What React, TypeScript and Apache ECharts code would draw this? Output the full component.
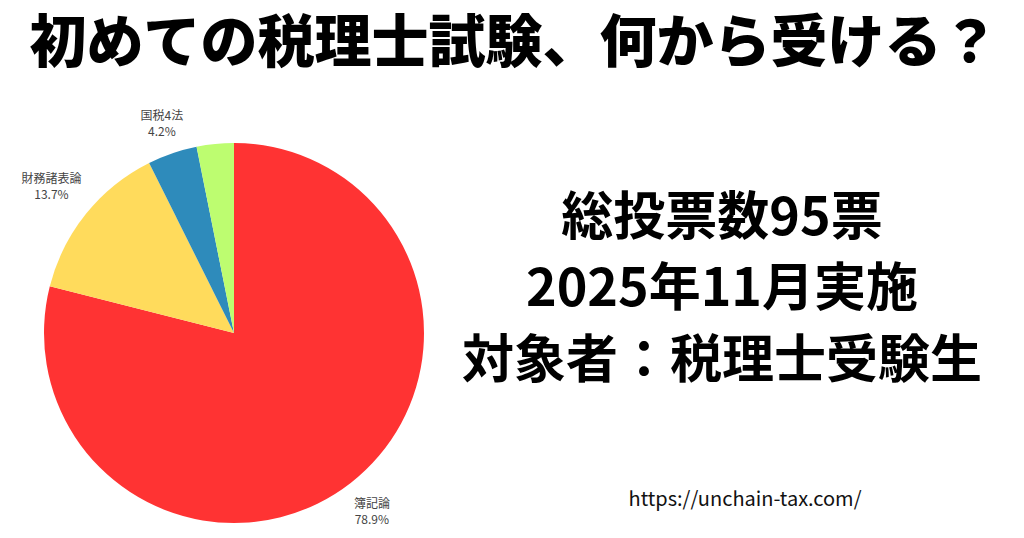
import React, { useEffect, useRef } from 'react';
import * as echarts from 'echarts';

// 投票データ
const subjects = ['簿記論', '財務諸表論', '国税4法', 'その他'];
const votes = [75, 13, 4, 3];
const sliceColors = ['#ff3333', '#ffdb5c', '#2e8bbb', '#bdfd70'];
const showLabel = [true, true, true, false];

const titleText = '初めての税理士試験、何から受ける？';
const infoLines = ['総投票数95票', '2025年11月実施', '対象者：税理士受験生'];
const siteUrl = 'https://unchain-tax.com/';

const PIE_CX = 234;
const PIE_CY = 333;
const PIE_R = 190;
const FONT = '"Noto Sans CJK JP", "Noto Sans", sans-serif';

const App: React.FC = () => {
  const chartRef = useRef<HTMLDivElement>(null);

  useEffect(() => {
    if (!chartRef.current) return;
    const chart = echarts.init(chartRef.current, undefined, { renderer: 'svg' });
    const total = votes.reduce((a, b) => a + b, 0);

    // ラベルを扇形の中心角方向、円の外側に置く
    const labelLayout = (params: any) => {
      const i = params.dataIndex;
      if (!showLabel[i]) return {};
      const before = votes.slice(0, i).reduce((a, b) => a + b, 0);
      const mid = ((before + votes[i] / 2) / total) * Math.PI * 2;
      const dx = Math.sin(mid);
      const dy = -Math.cos(mid);
      const hw = params.labelRect.width / 2;
      const hh = params.labelRect.height / 2;
      const t = PIE_R + 6 + hw * Math.abs(dx) + hh * Math.abs(dy);
      return {
        x: PIE_CX + dx * t,
        y: PIE_CY + dy * t,
        align: 'center',
        verticalAlign: 'middle'
      };
    };

    const option = {
      animation: false,
      backgroundColor: '#ffffff',
      graphic: [
        {
          type: 'text',
          x: 514,
          y: 37,
          style: {
            text: titleText,
            fill: '#000',
            font: `900 57px ${FONT}`,
            textAlign: 'center',
            textVerticalAlign: 'middle'
          }
        },
        ...infoLines.map((line, k) => ({
          type: 'text',
          x: 722,
          y: 212 + k * 71.5,
          style: {
            text: line,
            fill: '#000',
            font: `bold 52px ${FONT}`,
            textAlign: 'center',
            textVerticalAlign: 'middle'
          }
        })),
        {
          type: 'text',
          x: 745,
          y: 497,
          style: {
            text: siteUrl,
            fill: '#111',
            font: `20px ${FONT}`,
            textAlign: 'center',
            textVerticalAlign: 'middle'
          }
        }
      ],
      series: [
        {
          type: 'pie',
          center: [PIE_CX, PIE_CY],
          radius: PIE_R,
          startAngle: 90,
          clockwise: true,
          percentPrecision: 1,
          avoidLabelOverlap: false,
          label: {
            position: 'outside',
            formatter: '{b}\n{d}%',
            color: '#444',
            fontSize: 12,
            lineHeight: 16,
            padding: [3, 4],
            fontFamily: FONT
          },
          labelLine: { show: false },
          labelLayout,
          emphasis: { disabled: true },
          data: subjects.map((name, i) => ({
            name,
            value: votes[i],
            itemStyle: { color: sliceColors[i] },
            label: { show: showLabel[i] }
          }))
        }
      ]
    };

    chart.setOption(option);

    return () => {
      chart.dispose();
    };
  }, []);

  return (
    <div
      ref={chartRef}
      style={{ position: 'fixed', left: 0, top: 0, width: '1024px', height: '538px' }}
    ></div>
  );
};

export default App;
